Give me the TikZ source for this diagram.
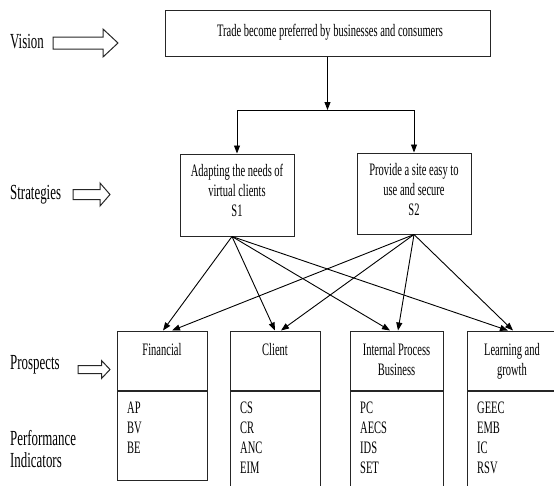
\documentclass[tikz,border=0pt]{standalone}
\usepackage{fontspec}
\setmainfont{Liberation Serif}[FakeStretch=0.6]
\usepackage{tikz}
\usetikzlibrary{arrows.meta,positioning}

\tikzset{
  box/.style={draw=black!85, line width=1pt, inner sep=0pt},
  boxtext/.style={font=\fontsize{17.5}{20}\selectfont, inner sep=0pt, align=center},
  listtext/.style={font=\fontsize{17.5}{20}\selectfont, inner sep=0pt, align=left, anchor=base west},
  sidetext/.style={font=\fontsize{21.5}{22}\selectfont, inner sep=0pt, align=left, anchor=base west},
  plain/.style={draw=black, line width=0.9pt},
  link/.style={plain, -{Triangle[length=8pt,width=6pt]}},
}

% hollow block arrow: x start, x tip, y, half shaft, half head, head length
\newcommand{\fatarrow}[6]{
  \draw[box] (#1,#3-#4) -- (#2-#6,#3-#4) -- (#2-#6,#3-#5) -- (#2,#3)
    -- (#2-#6,#3+#5) -- (#2-#6,#3+#4) -- (#1,#3+#4) -- cycle;
}

\begin{document}
\begin{tikzpicture}[x=1pt, y=-1pt]
\clip (0,0) rectangle (554,485);

% Left column labels (base = last line)
\node[sidetext] (lvision) at (10,48) {Vision};
\node[sidetext] (lstrat) at (10,199) {Strategies};
\node[sidetext] (lprosp) at (10,369) {Prospects};
\node[sidetext] (lperf) at (10,467) {Performance\\Indicators};

\fatarrow{53}{118}{43}{6}{14}{15}
\fatarrow{73}{110}{194.5}{5}{11.5}{10}
\fatarrow{78}{110}{369.5}{4}{9}{8.5}

% Vision box
\node[box, minimum width=325, minimum height=46] (vision) at (327.5,33) {};
\node[boxtext, anchor=base] (visiontext) at (330,36) {Trade become preferred by businesses and consumers};

% Strategy boxes
\node[box, minimum width=114, minimum height=82] (s1) at (237,195) {};
\node[box, minimum width=114, minimum height=81] (s2) at (414,193.5) {};
\node[boxtext, anchor=base] (s1text) at (237,216) {Adapting the needs of\\virtual clients\\S1};
\node[boxtext, anchor=base] (s2text) at (414,215) {Provide a site easy to\\use and secure\\S2};

% Split from vision to strategies
\coordinate (split) at (vision.south |- 0,110);
\coordinate (splitl) at (s1.north |- split);
\coordinate (splitr) at (s2.north |- split);
\draw[link] (vision.south) -- (split);
\draw[plain] (splitl) -- (splitr);
\draw[link] (splitl) -- (s1.north);
\draw[link] (splitr) -- (s2.north);

% Prospect boxes with indicator boxes below
\foreach \n/\x/\w/\h in {fin/162/90/89, cli/275/90/110, ipb/396.5/93/110, lrn/512/90/110} {
  \node[box, minimum width=\w, minimum height=59] (\n) at (\x,360.5) {};
  \node[box, minimum width=\w, minimum height=\h, anchor=north] (\n ind) at (\n.south) {};
}

\node[boxtext, anchor=base] (fintext) at (162,355) {Financial};
\node[boxtext, anchor=base] (clitext) at (275,355) {Client};
\node[boxtext, anchor=base] (ipbtext) at (396.5,375) {Internal Process\\Business};
\node[boxtext, anchor=base] (lrntext) at (512,375) {Learning and\\growth};

\node[listtext] (finlist) at (127,453) {AP\\BV\\BE};
\node[listtext] (clilist) at (240,473) {CS\\CR\\ANC\\EIM};
\node[listtext] (ipblist) at (360,473) {PC\\AECS\\IDS\\SET};
\node[listtext] (lrnlist) at (477,473) {GEEC\\EMB\\IC\\RSV};

% Strategies to prospects
\foreach \t/\a/\b in {fin/1/10, cli/0/6, ipb/-6.5/1.5, lrn/-4/1} {
  \draw[link] ([xshift=-5]s1.south) -- ([xshift=\a]\t.north);
  \draw[link] (s2.south) -- ([xshift=\b]\t.north);
}

\end{tikzpicture}
\end{document}
